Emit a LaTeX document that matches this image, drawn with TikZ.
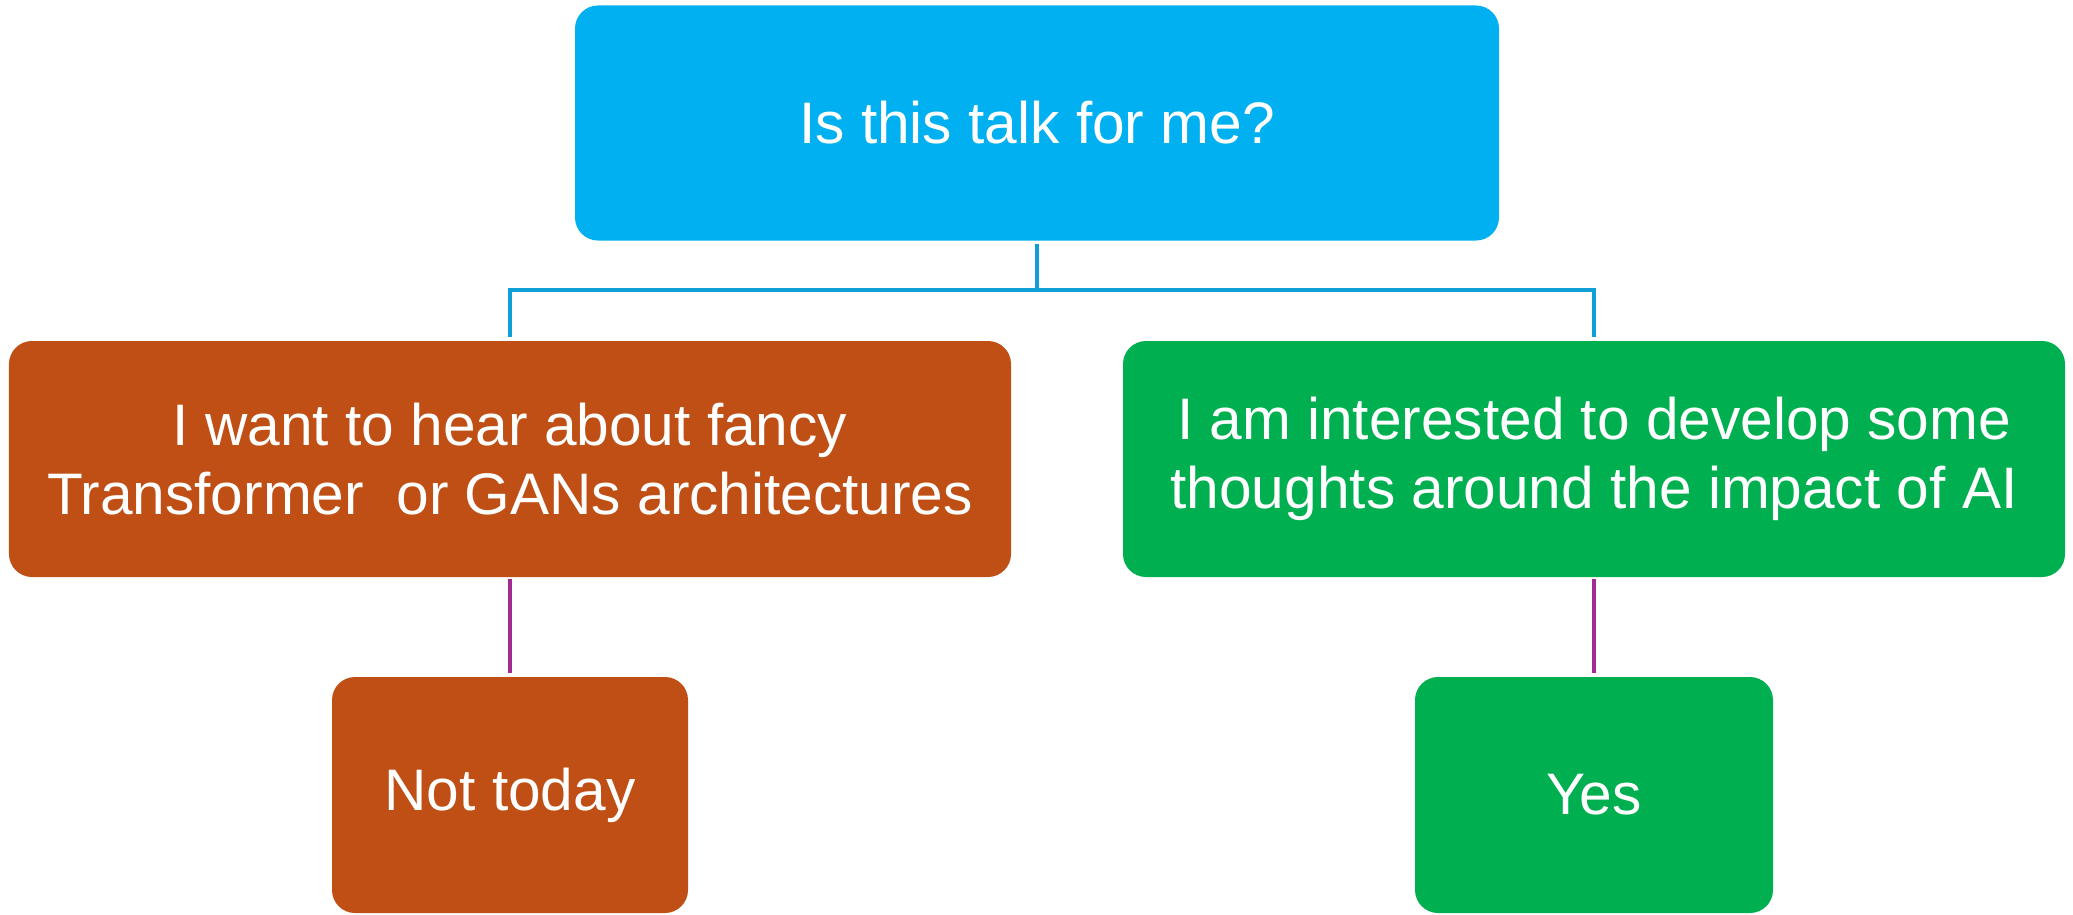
\documentclass[tikz,border=0pt]{standalone}
\usepackage{fontspec}
\setmainfont{Liberation Sans}
\definecolor{topblue}{HTML}{00B0F0}
\definecolor{orng}{HTML}{C04F15}
\definecolor{grn}{HTML}{00B050}
\definecolor{linkblue}{HTML}{0F9ED5}
\definecolor{purp}{HTML}{A02B93}
\begin{document}
\begin{tikzpicture}[x=1bp,y=-1bp,
  box/.style={rectangle, rounded corners=23bp, inner sep=0pt, minimum height=236bp,
    text=white, align=center, font=\fontsize{58.6bp}{69bp}\selectfont},
  bluelink/.style={draw=linkblue, line width=3.5bp},
  purplink/.style={draw=purp, line width=4bp, shorten <=2bp, shorten >=4bp}]
\useasboundingbox (0,0) rectangle (2073,915);
\node[box, fill=topblue, minimum width=924bp, minimum height=235bp] (top) at (1037,123) {Is this talk for me?};
\node[box, fill=orng, minimum width=1002bp] (left) at (510,459) {I want to hear about fancy\\Transformer\ \ or GANs architectures};
\node[box, fill=grn, minimum width=942bp] (right) at (1594,459) {I am interested to develop some\\thoughts around the impact of AI};
\node[box, fill=orng, minimum width=356bp] (no) at (510,795) {Not today};
\node[box, fill=grn, minimum width=358bp] (yes) at (1594,795) {Yes};
\coordinate (split) at (1037,290);
\draw[bluelink, shorten >=4bp] ([yshift=-3bp]top.south) -- (split) -| (left.north);
\draw[bluelink, shorten >=4bp] (split) -| (right.north);
\draw[purplink] (left.south) -- (no.north);
\draw[purplink] (right.south) -- (yes.north);
\end{tikzpicture}
\end{document}
